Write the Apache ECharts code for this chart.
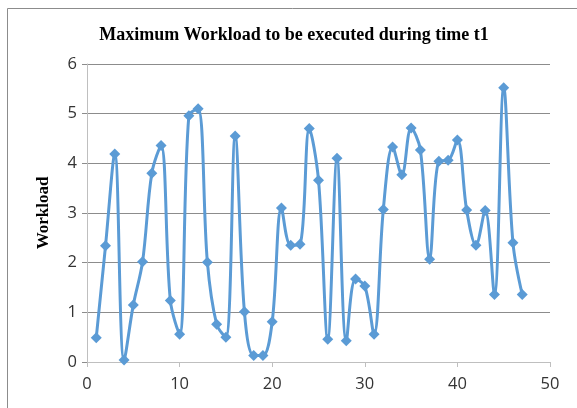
<!DOCTYPE html>
<html>
<head>
<meta charset="utf-8" />
<title>Maximum Workload</title>
<script src="https://cdn.jsdelivr.net/npm/echarts@6/dist/echarts.min.js"></script>
<style>
  html, body { margin: 0; padding: 0; background: #fff; }
  #chart { width: 577px; height: 408px; }
</style>
</head>
<body>
<div id="chart"></div>
<script type="text/javascript">
// time steps and the workload read at each of them
var timeSteps = [1, 2, 3, 4, 5, 6, 7, 8, 9, 10,
                 11, 12, 13, 14, 15, 16, 17, 18, 19, 20,
                 21, 22, 23, 24, 25, 26, 27, 28, 29, 30,
                 31, 32, 33, 34, 35, 36, 37, 38, 39, 40,
                 41, 42, 43, 44, 45, 46, 47];
var workload = [0.49, 2.34, 4.19, 0.04, 1.15, 2.02, 3.80, 4.36, 1.24, 0.56,
                4.96, 5.10, 2.01, 0.76, 0.50, 4.55, 1.01, 0.13, 0.13, 0.81,
                3.10, 2.35, 2.37, 4.70, 3.66, 0.46, 4.10, 0.43, 1.67, 1.53,
                0.56, 3.07, 4.33, 3.77, 4.71, 4.27, 2.07, 4.04, 4.06, 4.47,
                3.06, 2.35, 3.05, 1.36, 5.52, 2.40, 1.36];
var xTicks = [0, 10, 20, 30, 40, 50];
var yTicks = [0, 1, 2, 3, 4, 5, 6];

var points = [];
for (var i = 0; i < timeSteps.length; i++) {
    points.push([timeSteps[i], workload[i]]);
}

var myChart = echarts.init(document.getElementById('chart'));

var option = {
    backgroundColor: '#fff',
    animation: false,
    title: {
        text: 'Maximum Workload to be executed during time t1',
        left: 289,
        top: 21,
        textAlign: 'center',
        textStyle: {
            fontFamily: 'Liberation Serif',
            fontWeight: 'bold',
            fontSize: 18,
            color: '#000'
        }
    },
    graphic: [{
        type: 'rect',
        shape: { x: 7.5, y: 8.5, width: 600, height: 450 },
        style: { fill: 'none', stroke: '#8c8c8c', lineWidth: 1 },
        silent: true
    }],
    grid: {
        left: 87,
        right: 27,
        top: 64,
        bottom: 46
    },
    xAxis: {
        type: 'value',
        min: xTicks[0],
        max: xTicks[xTicks.length - 1],
        interval: 10,
        axisLine: { show: true, lineStyle: { color: '#bfbfbf', width: 1 } },
        axisTick: { show: true, length: 5, lineStyle: { color: '#bfbfbf' } },
        axisLabel: {
            margin: 14,
            fontFamily: 'Open Sans',
            fontSize: 16.5,
            color: '#333'
        },
        splitLine: { show: false }
    },
    yAxis: {
        type: 'value',
        min: yTicks[0],
        max: yTicks[yTicks.length - 1],
        interval: 1,
        name: 'Workload',
        nameLocation: 'middle',
        nameGap: 35,
        nameTextStyle: {
            fontFamily: 'Liberation Serif',
            fontWeight: 'bold',
            fontSize: 17,
            color: '#000'
        },
        axisLine: { show: true, lineStyle: { color: '#bfbfbf', width: 1 } },
        axisTick: { show: true, length: 5, inside: false, lineStyle: { color: '#8c8c8c' } },
        axisLabel: {
            margin: 10,
            fontFamily: 'Open Sans',
            fontSize: 16.5,
            color: '#333'
        },
        splitLine: { show: true, lineStyle: { color: '#8c8c8c', width: 1 } }
    },
    series: [{
        type: 'line',
        data: points,
        smooth: 0.35,
        symbol: 'diamond',
        symbolSize: 11,
        lineStyle: { color: '#5b9bd5', width: 3 },
        itemStyle: { color: '#5b9bd5' }
    }]
};
myChart.setOption(option);
</script>
</body>
</html>
